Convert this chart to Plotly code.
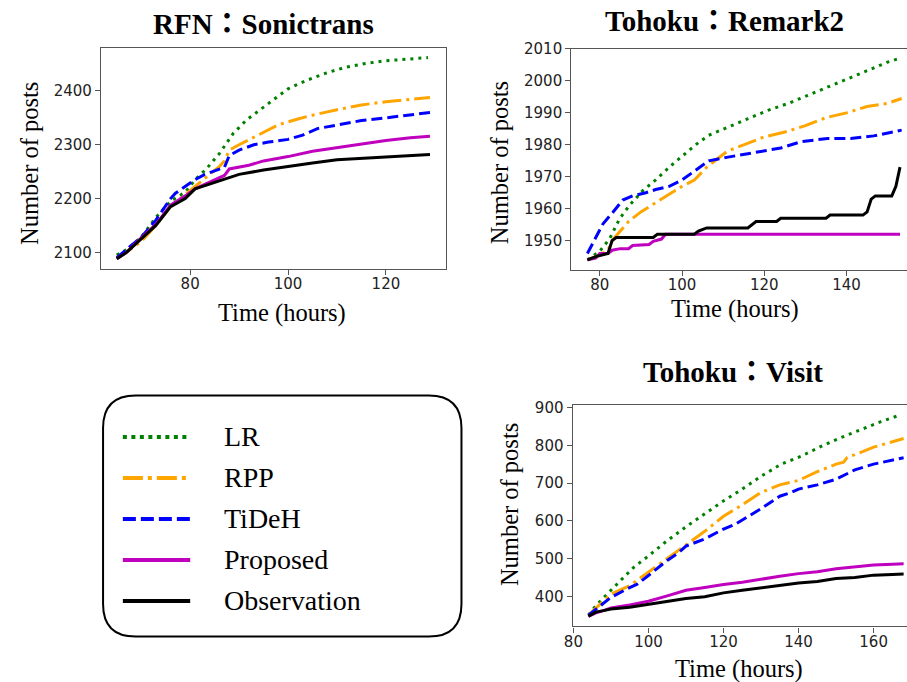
import plotly.graph_objects as go

W, H = 907, 682

# ---------------- data: RFN : Sonictrans ----------------
rfn_t_obs = [65, 67, 70, 73, 76, 79, 81, 85, 88, 90, 95, 100, 105, 110, 115, 120, 125, 129]
rfn_obs = [2088, 2100, 2125, 2150, 2185, 2200, 2218, 2230, 2240, 2245, 2253, 2260, 2266, 2272, 2275, 2277, 2280, 2282]
rfn_t_prop = [65, 67, 70, 73, 76, 79, 81, 82, 85, 87, 88, 92, 95, 100, 105, 110, 115, 120, 125, 129]
rfn_prop = [2088, 2100, 2127, 2152, 2188, 2205, 2218, 2222, 2235, 2243, 2255, 2262, 2270, 2278, 2288, 2295, 2302, 2308, 2313, 2316]
rfn_t_tideh = [65, 67, 70, 73, 76, 77, 79, 81, 83, 85, 87, 88, 90, 93, 96, 100, 103, 106, 110, 115, 120, 125, 129]
rfn_tideh = [2090, 2105, 2128, 2160, 2200, 2210, 2222, 2235, 2245, 2252, 2258, 2280, 2290, 2300, 2305, 2310, 2318, 2330, 2337, 2345, 2350, 2355, 2360]
rfn_t_rpp = [65, 67, 70, 73, 76, 78, 80, 82, 84, 86, 87, 88, 90, 94, 98, 102, 105, 110, 115, 120, 125, 129]
rfn_rpp = [2088, 2100, 2120, 2150, 2185, 2200, 2215, 2230, 2245, 2260, 2270, 2290, 2300, 2318, 2337, 2348, 2355, 2365, 2374, 2380, 2385, 2388]
rfn_t_lr = [65, 67, 70, 73, 76, 79, 81, 83.4, 86, 88.8, 91.5, 94.2, 96.9, 100, 103.6, 107.7, 111.7, 115.8, 119.8, 123.8, 128.6]
rfn_lr = [2095, 2105, 2128, 2165, 2195, 2212, 2235, 2256, 2284, 2321, 2346, 2364, 2382, 2404, 2419, 2433, 2444, 2451, 2456, 2459, 2462]

# ---------------- data: Tohoku : Remark2 ----------------
r2_t_obs = [77, 79, 82, 82.5, 83, 84, 93, 94, 103, 104, 106, 116, 117, 118, 123, 124, 135, 136, 144, 145, 146, 147, 151, 152, 153]
r2_obs = [1944, 1945, 1946, 1948, 1950, 1951, 1951, 1952, 1952, 1953, 1954, 1954, 1955, 1956, 1956, 1957, 1957, 1958, 1958, 1959, 1963, 1964, 1964, 1967, 1973]
r2_t_prop = [77, 79, 80, 82, 83, 85, 87, 88, 92, 93, 95, 96, 153]
r2_prop = [1944, 1944.5, 1946, 1946, 1947, 1947.5, 1947.5, 1948.5, 1948.8, 1949.8, 1950.5, 1952, 1952]
r2_t_tideh = [77, 79, 80.8, 83.2, 85.6, 88, 91.2, 93.6, 96.9, 100, 103.3, 106.5, 110.5, 115.3, 120, 124, 129, 135.4, 141, 146.6, 153.4]
r2_tideh = [1946, 1951, 1955.3, 1958.9, 1962.7, 1964, 1965, 1966, 1967, 1969, 1972, 1975, 1976, 1977, 1978, 1979, 1981, 1982, 1982, 1982.8, 1984.6]
r2_t_rpp = [77, 80, 82, 83, 85, 87, 90, 95, 100, 103, 106, 108, 111, 115, 120, 125, 130, 135, 140, 145, 150, 153.4]
r2_rpp = [1944, 1945.5, 1947, 1950, 1953, 1956, 1959, 1963, 1967, 1969, 1973, 1975, 1978, 1980, 1982.5, 1984, 1986, 1988.5, 1990, 1992, 1993, 1994.5]
r2_t_lr = [77, 80, 82.4, 84.8, 87.2, 90.4, 93.6, 96.9, 100, 103.3, 106.5, 111.3, 116.1, 120.9, 125.7, 130.6, 135.4, 140.2, 145, 149.8, 153.4]
r2_lr = [1944, 1946.7, 1950.6, 1956.8, 1961, 1965.6, 1969, 1973, 1976.4, 1980, 1983, 1985.7, 1988.2, 1990.8, 1992.9, 1995.5, 1998, 2000.6, 2003.2, 2005.8, 2007.3]

# ---------------- data: Tohoku : Visit ----------------
v_t_obs = [84, 86, 88, 90, 95, 100, 105, 110, 115, 120, 125, 130, 135, 140, 145, 150, 155, 160, 165, 168]
v_obs = [347, 358, 362, 366, 371, 379, 386, 394, 399, 409, 416, 423, 428, 435, 439, 447, 450, 456, 458, 459]
v_t_prop = v_t_obs
v_prop = [347, 356, 362, 369, 377, 387, 401, 416, 423, 431, 437, 446, 453, 460, 465, 473, 478, 483, 485, 486]
v_t_tideh = [84, 88, 90, 95, 97, 100, 105, 108, 110, 115, 120, 123, 125, 130, 135, 138, 140, 145, 150, 155, 160, 165, 168]
v_tideh = [350, 382, 397, 423, 432, 455, 495, 515, 533, 552, 578, 590, 602, 632, 665, 675, 684, 695, 710, 735, 750, 760, 767]
v_t_rpp = [84, 88, 90, 95, 100, 105, 110, 115, 120, 125, 130, 135, 140, 145, 150, 152, 153, 155, 160, 168]
v_rpp = [350, 387, 406, 428, 465, 500, 536, 572, 612, 642, 675, 695, 707, 730, 750, 755, 768, 775, 795, 818]
v_t_lr = [84, 86, 89, 92.5, 96, 100.4, 104.7, 110, 114.4, 119.6, 125, 130.2, 135.4, 140.7, 146, 151, 156.5, 161.8, 167]
v_lr = [350, 375, 406, 441, 476, 510, 545, 584, 615, 650, 684, 719, 750, 771, 797, 819, 841, 862, 880]

series_names = ["LR", "RPP", "TiDeH", "Proposed", "Observation"]
series_colors = ["#008000", "#FFA500", "#0000FF", "#BF00BF", "#000000"]
series_dash = ["3px,5px", "19px,5px,3px,5px", "11px,5px", "solid", "solid"]
legend_dash = ["4px,4.5px", "20px,5px,4px,5px", "13px,5px", "solid", "solid"]

panels = [
    dict(name="RFN：Sonictrans",
         data=[(rfn_t_lr, rfn_lr), (rfn_t_rpp, rfn_rpp), (rfn_t_tideh, rfn_tideh),
               (rfn_t_prop, rfn_prop), (rfn_t_obs, rfn_obs)]),
    dict(name="Tohoku：Remark2",
         data=[(r2_t_lr, r2_lr), (r2_t_rpp, r2_rpp), (r2_t_tideh, r2_tideh),
               (r2_t_prop, r2_prop), (r2_t_obs, r2_obs)]),
    dict(name="Tohoku：Visit",
         data=[(v_t_lr, v_lr), (v_t_rpp, v_rpp), (v_t_tideh, v_tideh),
               (v_t_prop, v_prop), (v_t_obs, v_obs)]),
]


def px(x):
    return x / W


def py(y):
    return 1 - y / H


fig = go.Figure()

axis_ids = ["", "2", "3"]
for k, panel in enumerate(panels):
    for i, (t, v) in enumerate(panel["data"]):
        fig.add_trace(go.Scatter(
            x=t, y=v, mode="lines", name=series_names[i], showlegend=False,
            xaxis="x" + axis_ids[k], yaxis="y" + axis_ids[k],
            line=dict(color=series_colors[i], width=3, dash=series_dash[i]),
        ))

TICKFONT = dict(family="DejaVu Sans", size=15, color="#222222")
SERIF = "Liberation Serif, Times New Roman, Noto Sans CJK JP, serif"
AXC = "#555555"

common_x = dict(showline=True, linecolor=AXC, linewidth=1.3, ticks="outside", ticklen=5,
                tickcolor=AXC, tickwidth=1.2, showgrid=False, zeroline=False, tickfont=TICKFONT,
                ticklabelstandoff=-4)
common_y = dict(showline=True, linecolor=AXC, linewidth=1.3, ticks="outside", ticklen=5,
                tickcolor=AXC, tickwidth=1.2, showgrid=False, zeroline=False, tickfont=TICKFONT)

fig.update_layout(
    width=W, height=H, margin=dict(l=0, r=0, t=0, b=0),
    paper_bgcolor="white", plot_bgcolor="white",
    xaxis=dict(common_x, domain=[px(93), px(441)], range=[61.8, 132.2], dtick=20, tick0=0,
               mirror=True, anchor="y"),
    yaxis=dict(common_y, domain=[py(264), py(40)], range=[2069.3, 2480.7], dtick=100, tick0=0,
               mirror=True, anchor="x"),
    xaxis2=dict(common_x, domain=[px(568), 1.0], range=[73.1, 154.7], dtick=20, tick0=0,
                mirror=True, anchor="y2"),
    yaxis2=dict(common_y, domain=[py(265), py(41)], range=[1940.85, 2010.15], dtick=10, tick0=0,
                mirror=False, anchor="x2"),
    xaxis3=dict(common_x, domain=[px(569.3), 1.0], range=[79.8, 168.9], dtick=20, tick0=0,
                mirror=True, anchor="y3"),
    yaxis3=dict(common_y, domain=[py(625.7), py(401.7)], range=[320.3, 906.7], dtick=100, tick0=0,
                mirror=False, anchor="x3"),
)

annotations = []
# panel titles
title_pos = [(257, 16), (723, 13), (731, 368)]
for panel, (x, y) in zip(panels, title_pos):
    annotations.append(dict(text="<b>" + panel["name"] + "</b>", x=px(x), y=py(y),
                            xref="paper", yref="paper", showarrow=False,
                            xanchor="center", yanchor="middle",
                            font=dict(family=SERIF, size=29, color="black")))
# axis titles
xt_pos = [(276, 309), (733, 305), (737, 669)]
yt_pos = [(20, 157), (495, 157), (505, 502)]
for (x, y) in xt_pos:
    annotations.append(dict(text="Time (hours)", x=px(x), y=py(y), xref="paper", yref="paper",
                            showarrow=False, xanchor="center", yanchor="middle",
                            font=dict(family=SERIF, size=24.5, color="black")))
for (x, y) in yt_pos:
    annotations.append(dict(text="Number of posts", x=px(x), y=py(y), xref="paper", yref="paper",
                            showarrow=False, xanchor="center", yanchor="middle", textangle=-90,
                            font=dict(family=SERIF, size=24.5, color="black")))

# ---------------- custom legend (rounded box) ----------------
shapes = []
L, T, R, B, r = 95, 392, 457, 636, 33
path = (f"M {px(L + r)} {py(T)} L {px(R - r)} {py(T)} Q {px(R)} {py(T)} {px(R)} {py(T + r)} "
        f"L {px(R)} {py(B - r)} Q {px(R)} {py(B)} {px(R - r)} {py(B)} "
        f"L {px(L + r)} {py(B)} Q {px(L)} {py(B)} {px(L)} {py(B - r)} "
        f"L {px(L)} {py(T + r)} Q {px(L)} {py(T)} {px(L + r)} {py(T)} Z")
shapes.append(dict(type="path", path=path, xref="paper", yref="paper",
                   line=dict(color="black", width=2), fillcolor="white", layer="below"))
for i, name in enumerate(series_names):
    yy = 434 + i * 41.5
    shapes.append(dict(type="line", xref="paper", yref="paper",
                       x0=px(115), x1=px(183), y0=py(yy), y1=py(yy),
                       line=dict(color=series_colors[i], width=4, dash=legend_dash[i])))
    annotations.append(dict(text=name, x=px(215), y=py(yy), xref="paper", yref="paper",
                            showarrow=False, xanchor="left", yanchor="middle",
                            font=dict(family=SERIF, size=28, color="black")))

fig.update_layout(annotations=annotations, shapes=shapes)
fig.write_html("out.html",
               config={"displayModeBar": False},
               post_script="document.body.style.margin='0';document.body.style.padding='0';"
                           "document.body.style.overflow='hidden';")
